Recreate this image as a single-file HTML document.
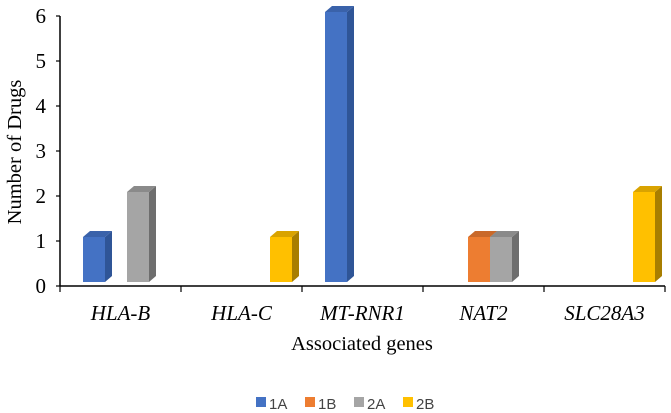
<!DOCTYPE html>
<html><head><meta charset="utf-8"><style>
html,body{margin:0;padding:0;background:#fff;}
svg{display:block;}
</style></head><body>
<svg id="chart" width="671" height="413" xmlns="http://www.w3.org/2000/svg"></svg>
<script>
const categories = ["HLA-B","HLA-C","MT-RNR1","NAT2","SLC28A3"];
const seriesNames = ["1A","1B","2A","2B"];
const s1A = [1,0,6,0,0];
const s1B = [0,0,0,1,0];
const s2A = [2,0,0,1,0];
const s2B = [0,1,0,0,2];
const yTicks = [0,1,2,3,4,5,6];
const series = [s1A,s1B,s2A,s2B];
const colors = [["#4472C4","#2F5597","#3A62AA"],["#ED7D31","#B35A1F","#C9692A"],["#A5A5A5","#6E6E6E","#8A8A8A"],["#FFC000","#A87E00","#D9A300"]];
const NS="http://www.w3.org/2000/svg";
const svg=document.getElementById('chart');
const X0=60,X1=665,YAX0=286,YAX6=16;
const catW=(X1-X0)/categories.length;
const baseY=282;
function y(v){return baseY-v*45;}
function yAxis(v){return YAX0-v*(YAX0-YAX6)/6;}
function el(t,a,txt){const e=document.createElementNS(NS,t);for(const k in a)e.setAttribute(k,a[k]);if(txt!==undefined)e.textContent=txt;svg.appendChild(e);return e;}
let e;
e=el('line',{x1:X0,y1:YAX6,x2:X0,y2:YAX0,stroke:'#000','stroke-width':1.5});


e=el('line',{x1:X0,y1:YAX0,x2:X1,y2:YAX0,stroke:'#000','stroke-width':1.5});


yTicks.forEach(t=>{
 const yy=yAxis(t);
 e=el('line',{x1:X0-4,y1:yy,x2:X0,y2:yy,stroke:'#000','stroke-width':1.2});
 
 
 e=el('text',{x:46,y:yy+7,'text-anchor':'end','font-family':'Liberation Serif, serif','font-size':21},String(t));
 
 
});
for(let i=0;i<=categories.length;i++){
 const xx=X0+i*catW;
 e=el('line',{x1:xx,y1:YAX0,x2:xx,y2:YAX0+6,stroke:'#000','stroke-width':1.2});
 
 
}
categories.forEach((c,i)=>{
 e=el('text',{x:X0+catW*(i+0.5),y:320,'text-anchor':'middle','font-family':'Liberation Serif, serif','font-style':'italic','font-size':21},c);
 
 
});
const bw=22,dx=7,dy=6;
series.forEach((s,si)=>{
 s.forEach((v,ci)=>{
  if(!v)return;
  const x=X0+ci*catW+23+si*22, top=y(v);
  const g=document.createElementNS(NS,'g');svg.appendChild(g);
  
  
  const c=colors[si];
  const p1=document.createElementNS(NS,'polygon');
  p1.setAttribute('points',`${x+bw},${top} ${x+bw+dx},${top-dy} ${x+bw+dx},${baseY-dy} ${x+bw},${baseY}`);p1.setAttribute('fill',c[1]);g.appendChild(p1);
  const p2=document.createElementNS(NS,'polygon');
  p2.setAttribute('points',`${x},${top} ${x+dx},${top-dy} ${x+bw+dx},${top-dy} ${x+bw},${top}`);p2.setAttribute('fill',c[2]);g.appendChild(p2);
  const r=document.createElementNS(NS,'rect');
  r.setAttribute('x',x);r.setAttribute('y',top);r.setAttribute('width',bw);r.setAttribute('height',baseY-top);r.setAttribute('fill',c[0]);g.appendChild(r);
 });
});
e=el('text',{x:362,y:350,'text-anchor':'middle','font-family':'Liberation Serif, serif','font-size':20.5},'Associated genes');


e=el('text',{x:0,y:0,'text-anchor':'middle','font-family':'Liberation Serif, serif','font-size':20.5,transform:'translate(21,152) rotate(-90)'},'Number of Drugs');


seriesNames.forEach((n,i)=>{
 const lx=256+i*49;
 const g=document.createElementNS(NS,'g');svg.appendChild(g);
 
 
 const r=document.createElementNS(NS,'rect');r.setAttribute('x',lx);r.setAttribute('y',397);r.setAttribute('width',10);r.setAttribute('height',10);r.setAttribute('fill',colors[i][0]);g.appendChild(r);
 const t=document.createElementNS(NS,'text');t.setAttribute('x',lx+13);t.setAttribute('y',409);t.setAttribute('font-family','Liberation Sans, sans-serif');t.setAttribute('font-size',15);t.setAttribute('fill','#444');t.textContent=n;g.appendChild(t);
});
</script>
</body></html>
